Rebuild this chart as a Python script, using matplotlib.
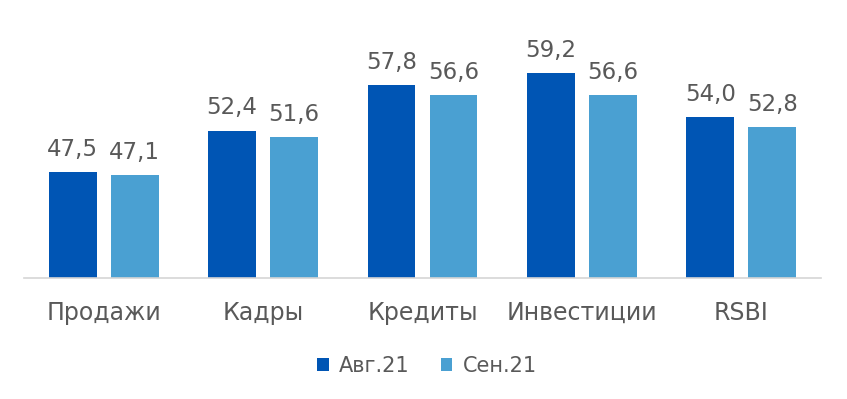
import matplotlib
matplotlib.use("Agg")
import matplotlib.pyplot as plt
import numpy as np

# -- Data --
categories = ["Продажи", "Кадры", "Кредиты", "Инвестиции", "RSBI"]
series_names = ["Авг.21", "Сен.21"]
aug_values = [47.5, 52.4, 57.8, 59.2, 54.0]
sep_values = [47.1, 51.6, 56.6, 56.6, 52.8]

dark_blue = "#0055B4"
light_blue = "#4AA0D2"
text_gray = "#595959"

plt.rcParams["font.family"] = ["DejaVu Sans"]

fig = plt.figure(figsize=(8.47, 3.99), dpi=100)
# axes box in figure fractions (pixel positions)
ax = fig.add_axes([24 / 847, 1 - 277.5 / 399, 797 / 847, 228 / 399])

x = np.arange(len(categories))
width = 0.30
off = 0.195

bars_aug = ax.bar(x - off, aug_values, width, color=dark_blue, label=series_names[0])
bars_sep = ax.bar(x + off, sep_values, width, color=light_blue, label=series_names[1])

# -- value labels, comma decimal --
for bars in (bars_aug, bars_sep):
    for b in bars:
        h = b.get_height()
        ax.annotate(f"{h:.1f}".replace(".", ","),
                    (b.get_x() + b.get_width() / 2, h),
                    xytext=(0, 8), textcoords="offset points",
                    ha="center", va="bottom", fontsize=16.5, color=text_gray)

ax.set_xlim(-0.5, len(categories) - 0.5)
ax.set_ylim(35, 62)
ax.set_yticks([])
ax.set_xticks(x)
ax.set_xticklabels(categories, fontsize=17, color=text_gray)
ax.tick_params(axis="x", length=0, pad=17)

for side in ("top", "right", "left"):
    ax.spines[side].set_visible(False)
ax.spines["bottom"].set_color("#D5D5D5")
ax.spines["bottom"].set_linewidth(1.2)

leg = fig.legend(loc="center", bbox_to_anchor=(427 / 847, 1 - 366 / 399),
                 ncol=2, frameon=False, fontsize=15, handlelength=0.55,
                 handleheight=0.55, handletextpad=0.5, columnspacing=1.5)
for t in leg.get_texts():
    t.set_color(text_gray)

fig.savefig("out.png", dpi=100)
